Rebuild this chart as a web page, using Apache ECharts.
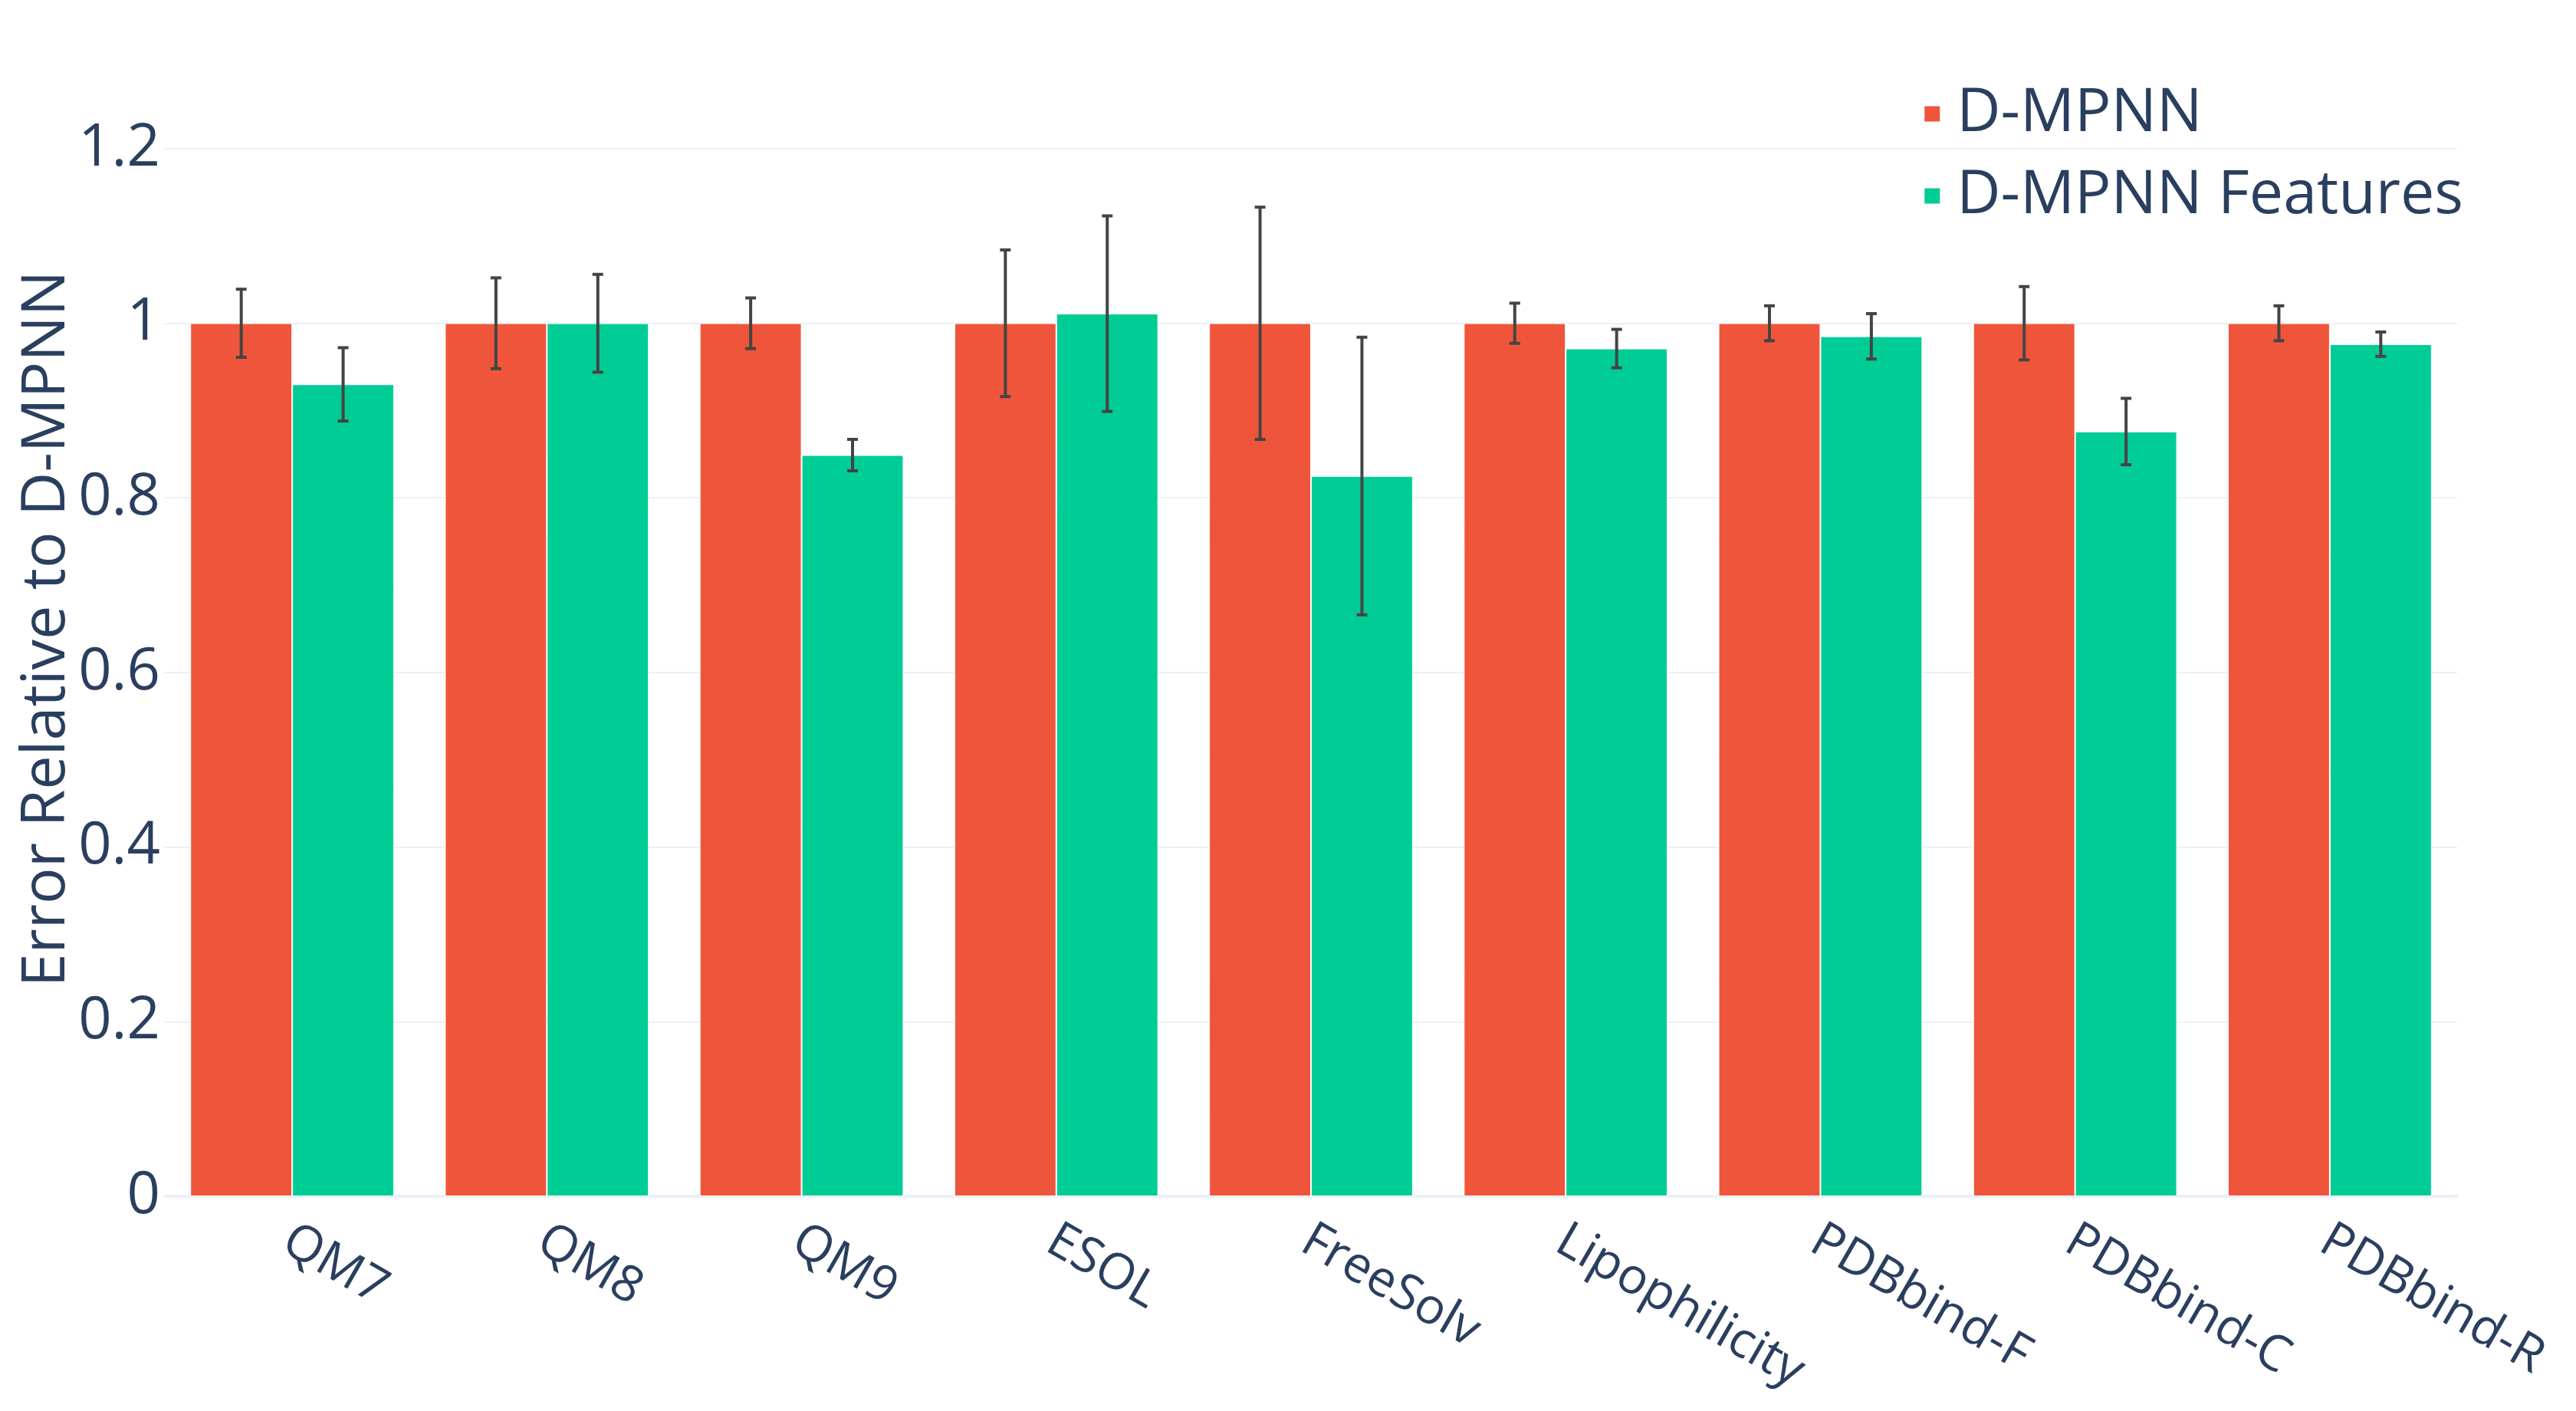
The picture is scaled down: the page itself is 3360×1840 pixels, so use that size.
<!DOCTYPE html>
<html>
<head>
<meta charset="utf-8">
<script src="https://cdn.jsdelivr.net/npm/echarts@6/dist/echarts.min.js"></script>
<style>
html,body{margin:0;padding:0;background:#fff;}
#chartmain{width:3360px;height:1840px;}
</style>
</head>
<body>
<div id="chartmain"></div>
<script>
var categories=['QM7','QM8','QM9','ESOL','FreeSolv','Lipophilicity','PDBbind-F','PDBbind-C','PDBbind-R'];
var dmpnn=[1,1,1,1,1,1,1,1,1];
var dmpnnErr=[0.039,0.052,0.029,0.084,0.133,0.023,0.020,0.042,0.020];
var features=[0.930,1.000,0.849,1.011,0.825,0.971,0.985,0.876,0.976];
var featuresErr=[0.042,0.056,0.018,0.112,0.159,0.022,0.026,0.038,0.014];

var textColor='#2a3f5f';
var gridColor='#EBF0F8';

function errdata(vals,errs) {
	var out=[];
	for(var i=0;i<vals.length;i++) {
		out.push([i,vals[i]-errs[i],vals[i]+errs[i]]);
	}
	return out;
}

// draws the I-beam on top of bar number "side" (-1 left, +1 right)
function errrender(side) {
	return function(params,api) {
		var i=api.value(0);
		var lo=api.coord([i,api.value(1)]);
		var hi=api.coord([i,api.value(2)]);
		var band=api.size([1,0])[0];
		var x=lo[0]+side*band*0.8/4;
		var cap=7;
		var st={stroke:'#444',lineWidth:4};
		return {type:'group',children:[
			{type:'line',shape:{x1:x,y1:hi[1],x2:x,y2:lo[1]},style:st},
			{type:'line',shape:{x1:x-cap,y1:hi[1],x2:x+cap,y2:hi[1]},style:st},
			{type:'line',shape:{x1:x-cap,y1:lo[1],x2:x+cap,y2:lo[1]},style:st}
		]};
	};
}

var myChart=echarts.init(document.getElementById('chartmain'));
var option={
	animation:false,
	textStyle:{fontFamily:'Open Sans',color:textColor},
	grid:{left:215,right:155,top:80,bottom:280},
	legend:{
		orient:'vertical',
		right:142,top:104,
		itemWidth:22,itemHeight:22,itemGap:28,
		icon:'rect',
		data:['D-MPNN','D-MPNN Features'],
		textStyle:{fontSize:79,color:textColor,fontFamily:'Open Sans',padding:[0,0,0,16]}
	},
	xAxis:{
		type:'category',
		data:categories,
		axisTick:{show:false},
		axisLine:{lineStyle:{color:gridColor,width:4}},
		axisLabel:{rotate:-30,margin:20,verticalAlign:'top',padding:[0,0,0,10],
			fontSize:65,color:textColor,fontFamily:'Open Sans'}
	},
	yAxis:{
		type:'value',
		min:0,max:1.3,interval:0.2,
		name:'Error Relative to D-MPNN',
		nameLocation:'middle',
		nameGap:114,
		nameMoveOverlap:false,
		nameTextStyle:{fontSize:79,color:textColor,fontFamily:'Open Sans'},
		axisLine:{show:false},
		axisTick:{show:false},
		axisLabel:{fontSize:76,color:textColor,margin:6,showMaxLabel:false,fontFamily:'Open Sans',
			formatter:function(v){return String(Math.round(v*10)/10);}},
		splitLine:{showMaxLine:false,lineStyle:{color:gridColor,width:2}}
	},
	series:[
		{name:'D-MPNN',type:'bar',data:dmpnn,barGap:'0%',barCategoryGap:'20%',
			itemStyle:{color:'#EF553B',borderColor:'#fff',borderWidth:1}},
		{name:'D-MPNN Features',type:'bar',data:features,barGap:'0%',barCategoryGap:'20%',
			itemStyle:{color:'#00CC96',borderColor:'#fff',borderWidth:1}},
		{name:'D-MPNN err',type:'custom',renderItem:errrender(-1),data:errdata(dmpnn,dmpnnErr),
			encode:{x:0,y:[1,2]},z:5},
		{name:'D-MPNN Features err',type:'custom',renderItem:errrender(1),data:errdata(features,featuresErr),
			encode:{x:0,y:[1,2]},z:5}
	]
};
myChart.setOption(option);
</script>
</body>
</html>
